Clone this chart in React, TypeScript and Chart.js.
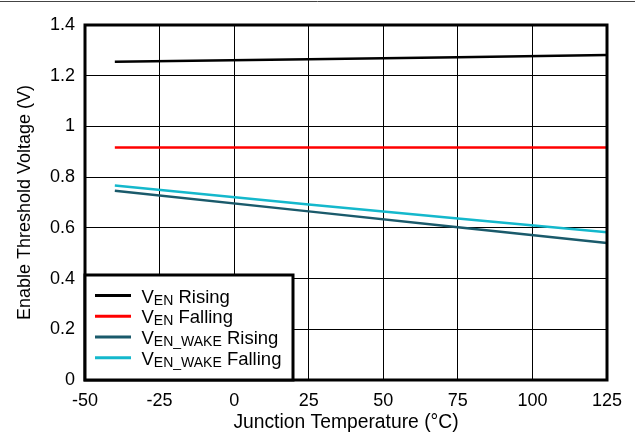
import React, { useEffect, useRef } from "react";
import { Chart, registerables } from "chart.js";

Chart.register(...registerables);

const temperatures = [-40, 25, 75, 125];
const venRising = [1.255, 1.265, 1.273, 1.282];
const venFalling = [0.917, 0.917, 0.917, 0.917];
const venWakeRising = [0.746, 0.665, 0.602, 0.54];
const venWakeFalling = [0.767, 0.692, 0.637, 0.583];

const seriesMain = ["V", "V", "V", "V"];
const seriesSub = ["EN", "EN", "EN_WAKE", "EN_WAKE"];
const seriesRest = [" Rising", " Falling", " Rising", " Falling"];
const seriesColors = ["#000000", "#ff0000", "#1a5a6b", "#14b8cc"];

const xTickValues = [-50, -25, 0, 25, 50, 75, 100, 125];
const yTickValues = [0, 0.2, 0.4, 0.6, 0.8, 1, 1.2, 1.4];

const xTitle = "Junction Temperature (°C)";
const yTitle = "Enable Threshold Voltage (V)";

const FONT = "'Liberation Sans', Arial, sans-serif";

export default function App() {
  const ref = useRef<HTMLCanvasElement | null>(null);

  useEffect(() => {
    document.body.style.margin = "0";
    const canvas = ref.current;
    if (!canvas) return;

    const allSeries = [venRising, venFalling, venWakeRising, venWakeFalling];

    const framePlugin = {
      id: "frameAndLegend",
      afterDraw(chart: any) {
        const ctx = chart.ctx;
        const a = chart.chartArea;
        ctx.save();
        // top rule
        ctx.strokeStyle = "#444";
        ctx.lineWidth = 1;
        ctx.beginPath();
        ctx.moveTo(0, 1.5);
        ctx.lineTo(chart.width, 1.5);
        ctx.stroke();
        // frame
        ctx.strokeStyle = "#000";
        ctx.lineWidth = 3;
        ctx.strokeRect(a.left, a.top, a.right - a.left, a.bottom - a.top);
        // legend
        const lx = a.left;
        const ly = 275;
        const lw = 208;
        const lh = a.bottom - ly;
        ctx.fillStyle = "#fff";
        ctx.fillRect(lx, ly, lw, lh);
        ctx.lineWidth = 3;
        ctx.strokeRect(lx, ly, lw, lh);
        const rowY = [295.5, 316.2, 337, 357.7];
        for (let i = 0; i < 4; i++) {
          const y = rowY[i];
          ctx.strokeStyle = seriesColors[i];
          ctx.lineWidth = 3;
          ctx.beginPath();
          ctx.moveTo(95, y);
          ctx.lineTo(131, y);
          ctx.stroke();
          ctx.fillStyle = "#000";
          ctx.textBaseline = "alphabetic";
          ctx.textAlign = "left";
          let x = 141.5;
          const base = y + 7;
          ctx.font = `18.5px ${FONT}`;
          ctx.fillText(seriesMain[i], x, base);
          x += ctx.measureText(seriesMain[i]).width;
          ctx.font = `14px ${FONT}`;
          ctx.fillText(seriesSub[i], x, base + 2);
          x += ctx.measureText(seriesSub[i]).width;
          ctx.font = `18.5px ${FONT}`;
          ctx.fillText(seriesRest[i], x, base);
        }
        ctx.restore();
      },
    };

    const chart = new Chart(canvas, {
      type: "line",
      data: {
        datasets: allSeries.map((s, i) => ({
          label: seriesMain[i] + seriesSub[i] + seriesRest[i],
          data: temperatures.map((t, j) => ({ x: t, y: s[j] })),
          borderColor: seriesColors[i],
          backgroundColor: seriesColors[i],
          borderWidth: 2.5,
          pointRadius: 0,
          tension: 0,
        })),
      },
      options: {
        animation: false,
        responsive: false,
        maintainAspectRatio: false,
        layout: { padding: { left: 0, right: 28, top: 25, bottom: 0 } },
        plugins: { legend: { display: false }, tooltip: { enabled: false } },
        scales: {
          x: {
            type: "linear",
            min: -50,
            max: 125,
            afterBuildTicks(scale: any) {
              scale.ticks = xTickValues.map((v) => ({ value: v }));
            },
            afterFit(scale: any) {
              scale.height = 54;
            },
            ticks: {
              color: "#000",
              font: { family: FONT, size: 18 },
              padding: 10,
              maxRotation: 0,
              autoSkip: false,
              callback: (v: any) => String(v),
            },
            grid: { color: "#000", lineWidth: 1, drawTicks: false },
            border: { display: false },
            title: {
              display: true,
              text: xTitle,
              color: "#000",
              font: { family: FONT, size: 19.3 },
              padding: { top: 0, bottom: 0 },
            },
          },
          y: {
            type: "linear",
            min: 0,
            max: 1.4,
            afterBuildTicks(scale: any) {
              scale.ticks = yTickValues.map((v) => ({ value: v }));
            },
            afterFit(scale: any) {
              scale.width = 85;
            },
            ticks: {
              color: "#000",
              font: { family: FONT, size: 18 },
              padding: 10,
              autoSkip: false,
              callback: (v: any) => String(Number(Number(v).toFixed(1))),
            },
            grid: { color: "#000", lineWidth: 1, drawTicks: false },
            border: { display: false },
            title: {
              display: true,
              text: yTitle,
              color: "#000",
              font: { family: FONT, size: 18 },
              padding: { top: 14, bottom: 0 },
            },
          },
        },
      },
      plugins: [framePlugin],
    });

    return () => chart.destroy();
  }, []);

  return (
    <div style={{ position: "absolute", left: 0, top: 0, width: 635, height: 434, background: "#fff" }}>
      <canvas ref={ref} width={635} height={434} style={{ width: 635, height: 434, display: "block" }} />
    </div>
  );
}
